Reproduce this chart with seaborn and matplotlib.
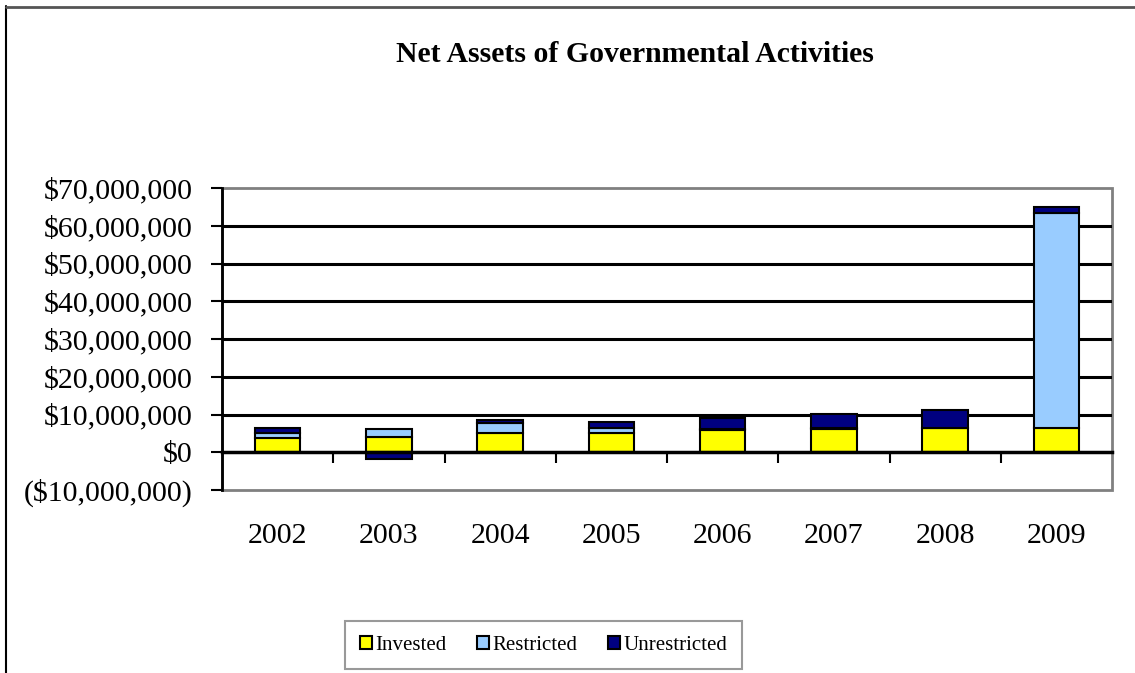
import matplotlib
matplotlib.use("Agg")
import matplotlib.pyplot as plt
from matplotlib.ticker import FuncFormatter, MultipleLocator, FixedLocator
from matplotlib.patches import Rectangle, Patch
import seaborn as sns
import pandas as pd
import numpy as np

years = ["2002", "2003", "2004", "2005", "2006", "2007", "2008", "2009"]
invested = [3.9e6, 4.0e6, 5.0e6, 5.0e6, 5.85e6, 6.2e6, 6.3e6, 6.3e6]
restricted = [1.1e6, 2.2e6, 2.65e6, 1.4e6, 0.2e6, 0.2e6, 0.2e6, 57.1e6]
unrestricted = [1.3e6, -1.75e6, 1.0e6, 1.5e6, 2.9e6, 3.8e6, 4.6e6, 1.6e6]

series_names = ["Invested", "Restricted", "Unrestricted"]
colors = ["#FFFF00", "#99CCFF", "#000080"]

sns.set_theme(style="white")
plt.rcParams["font.family"] = ["Liberation Serif", "DejaVu Serif"]
plt.rcParams["text.color"] = "black"
plt.rcParams["xtick.color"] = "black"
plt.rcParams["ytick.color"] = "black"
plt.rcParams["axes.labelcolor"] = "black"

fig = plt.figure(figsize=(11.35, 6.73), dpi=100)
ax = fig.add_axes([222 / 1135, 1 - 490 / 673, (1112 - 222) / 1135, (490 - 188) / 673])

df = pd.DataFrame({"year": years, "Invested": invested,
                   "Restricted": restricted, "Unrestricted": unrestricted})

pos_base = np.zeros(len(years))
neg_base = np.zeros(len(years))
for name, col in zip(series_names, colors):
    vals = df[name].to_numpy()
    bottoms = np.where(vals >= 0, pos_base, neg_base)
    sns.barplot(x=df["year"], y=vals, bottom=bottoms, color=col, ax=ax,
                width=0.41, edgecolor="black", linewidth=1.5, zorder=3,
                saturation=1)
    pos_base = pos_base + np.where(vals >= 0, vals, 0)
    neg_base = neg_base + np.where(vals < 0, vals, 0)

ax.set_ylim(-10e6, 70e6)
ax.set_xlim(-0.5, len(years) - 0.5)
ax.yaxis.set_major_locator(MultipleLocator(10e6))


def money(v, pos):
    if v < 0:
        return "(${:,.0f})".format(-v)
    return "${:,.0f}".format(v)


ax.yaxis.set_major_formatter(FuncFormatter(money))
ax.set_xlabel("")
ax.set_ylabel("")

# gridlines
for yv in np.arange(10e6, 70e6, 10e6):
    ax.axhline(yv, color="black", linewidth=2.2, zorder=1)

# spines
for s in ["top", "right"]:
    ax.spines[s].set_visible(False)
ax.spines["bottom"].set_position(("data", 0))
ax.spines["bottom"].set_color("black")
ax.spines["bottom"].set_linewidth(2.5)
ax.spines["bottom"].set_zorder(4)
ax.spines["left"].set_color("black")
ax.spines["left"].set_linewidth(2)
frame = Rectangle((0, 0), 1, 1, transform=ax.transAxes, fill=False,
                  edgecolor="#808080", linewidth=2, clip_on=False, zorder=0.5)
ax.add_patch(frame)

ax.tick_params(axis="y", which="major", direction="out", length=8, width=1.5,
               color="black", labelcolor="black", labelsize=21.5, pad=13, left=True)
ax.xaxis.set_minor_locator(FixedLocator(np.arange(0.5, len(years) - 0.5, 1)))
ax.tick_params(axis="x", which="minor", direction="out", length=8, width=1.5,
               color="black", bottom=True)
ax.tick_params(axis="x", which="major", length=0, labelsize=21.5,
               labelcolor="black", pad=51)

fig.text(634.5 / 1135, 1 - 54 / 673, "Net Assets of Governmental Activities",
         ha="center", va="center", fontsize=21.4, fontweight="bold", color="black")

handles = [Patch(facecolor=c, edgecolor="black", linewidth=1.5) for c in colors]
leg = fig.legend(handles, series_names, loc="upper left",
                 bbox_to_anchor=(345 / 1135, 1 - 621 / 673), ncol=3,
                 fontsize=15, frameon=True, fancybox=False,
                 borderaxespad=0.0, labelcolor="black",
                 handlelength=0.6, handleheight=0.6, handletextpad=0.15,
                 columnspacing=1.45, borderpad=0.7)
leg.get_frame().set_edgecolor("#808080")
leg.get_frame().set_linewidth(1.5)

# outer chart border (left and top)
fig.add_artist(plt.Line2D([6 / 1135, 6 / 1135], [0, 1 - 6 / 673],
                          transform=fig.transFigure, color="black", linewidth=1.5))
fig.add_artist(plt.Line2D([6 / 1135, 1], [1 - 6.5 / 673, 1 - 6.5 / 673],
                          transform=fig.transFigure, color="#555555", linewidth=2))

fig.savefig("out.png", dpi=100)
